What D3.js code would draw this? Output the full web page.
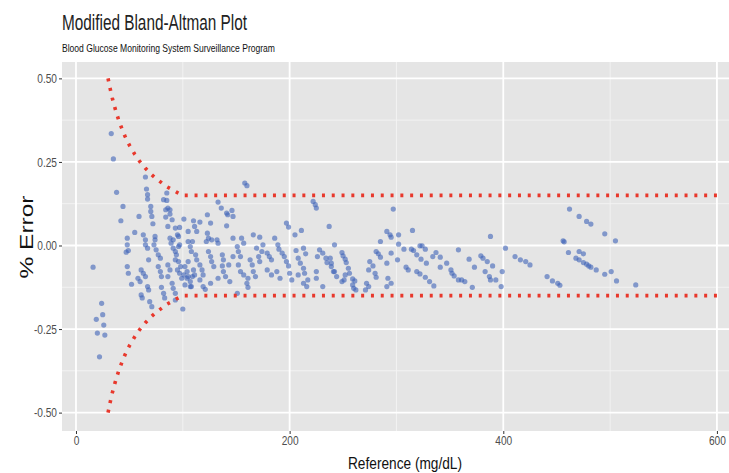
<!DOCTYPE html>
<html>
<head>
<meta charset="utf-8">
<script src="https://cdn.jsdelivr.net/npm/d3@7/dist/d3.min.js"></script>
<style>
  html, body { margin: 0; padding: 0; background: #ffffff; }
  svg { display: block; }
  text { font-family: "Liberation Sans", Arial, Helvetica, sans-serif; }
</style>
</head>
<body>
<svg id="chart" width="729" height="473"></svg>
<script>
// ---------------- DATA ----------------
const chartTitle = "Modified Bland-Altman Plot";
const chartSubtitle = "Blood Glucose Monitoring System Surveillance Program";
const xAxisTitle = "Reference (mg/dL)";
const yAxisTitle = "% Error";

const xTicks = [0, 200, 400, 600];
const xTickLabels = ["0", "200", "400", "600"];
const xMinorTicks = [100, 300, 500];
const yTicks = [-0.5, -0.25, 0, 0.25, 0.5];
const yTickLabels = ["-0.50", "-0.25", "0.00", "0.25", "0.50"];
const yMinorTicks = [-0.375, -0.125, 0.125, 0.375];

// accuracy boundary (red dotted lines)
const boundX     = [30, 32, 34, 36, 38, 40, 43, 46, 50, 55, 60, 65, 70, 75, 80, 85, 90, 95, 100, 600];
const boundUpper = [0.500, 0.469, 0.441, 0.417, 0.395, 0.375, 0.349, 0.326, 0.300, 0.273, 0.250, 0.231, 0.214, 0.200, 0.188, 0.176, 0.167, 0.158, 0.150, 0.150];
const boundLower = [-0.500, -0.469, -0.441, -0.417, -0.395, -0.375, -0.349, -0.326, -0.300, -0.273, -0.250, -0.231, -0.214, -0.200, -0.188, -0.176, -0.167, -0.158, -0.150, -0.150];

// scatter: reference value (mg/dL) and % error
const refX = [
  16, 24, 25, 19, 26, 20, 27, 22, 33, 35, 65, 38, 66, 67, 67, 44, 70, 70, 71, 42,
  59, 72, 85, 85, 84, 88, 84, 90, 93, 97, 86, 55, 48, 63, 74, 95, 105, 82, 86, 101,
  110, 111, 113, 48, 49, 47, 65, 65, 67, 74, 73, 75, 77, 79, 88, 89, 91, 93, 94, 96,
  97, 105, 107, 108, 68, 48, 49, 61, 63, 65, 58, 60, 52, 67, 68, 61, 62, 69, 71, 77,
  79, 80, 80, 82, 83, 86, 88, 86, 90, 91, 93, 93, 95, 97, 99, 96, 102, 104, 105, 107,
  108, 105, 110, 111, 100, 133, 136, 141, 146, 142, 147, 123, 116, 126, 141, 123, 124, 122, 109, 132,
  133, 147, 155, 157, 166, 172, 175, 169, 174, 179, 181, 183, 189, 190, 193, 195, 197, 199, 197, 199,
  205, 211, 206, 213, 215, 208, 210, 213, 214, 208, 222, 224, 225, 237, 242, 228, 231, 226, 234, 235,
  239, 242, 244, 225, 225, 231, 217, 216, 124, 126, 127, 129, 137, 138, 137, 138, 140, 144, 112, 113,
  116, 118, 119, 109, 116, 121, 126, 133, 151, 152, 154, 152, 154, 157, 161, 163, 165, 166, 168, 160,
  161, 171, 172, 179, 183, 188, 191, 200, 202, 213, 147, 143, 151, 158, 160, 88, 186, 127, 91, 96,
  93, 98, 101, 104, 102, 107, 119, 238, 239, 241, 249, 250, 252, 253, 255, 256, 252, 251, 249, 259,
  261, 259, 260, 262, 272, 271, 274, 274, 275, 278, 280, 281, 281, 283, 285, 285, 291, 294, 295, 297,
  302, 302, 295, 291, 292, 291, 295, 301, 307, 309, 311, 315, 314, 316, 319, 322, 319, 322, 324, 327,
  323, 328, 327, 331, 334, 337, 335, 341, 341, 347, 351, 352, 354, 358, 361, 364, 358, 368, 371, 373,
  379, 381, 385, 383, 388, 390, 387, 388, 393, 398, 399, 402, 411, 416, 421, 425, 441, 446, 451, 453,
  456, 457, 461, 462, 471, 478, 482, 495, 505, 471, 475, 468, 471, 475, 478, 480, 482, 487, 495, 501,
  506, 524
];
const pctErr = [
  -0.065, -0.173, -0.207, -0.221, -0.238, -0.262, -0.268, -0.333, 0.335, 0.259, 0.205, 0.159, 0.169, 0.152, 0.139, 0.117, 0.117, 0.102, 0.087, 0.074,
  0.087, 0.065, 0.157, 0.135, 0.107, 0.094, 0.085, 0.077, 0.052, 0.054, 0.057, 0.039, 0.022, 0.032, 0.027, 0.032, 0.042, 0.137, 0.112, 0.079,
  0.074, 0.057, 0.042, 0.002, -0.015, -0.020, 0.017, 0.002, -0.008, 0.017, 0.002, -0.013, -0.028, -0.038, 0.022, 0.007, -0.008, -0.018, -0.028, 0.027,
  0.002, 0.012, -0.003, -0.018, -0.043, -0.063, -0.083, -0.073, -0.083, -0.093, -0.098, -0.108, -0.116, -0.123, -0.133, -0.148, -0.157, -0.168, -0.183, -0.063,
  -0.078, -0.093, -0.125, -0.143, -0.157, -0.058, -0.073, -0.093, -0.113, -0.128, -0.143, -0.163, -0.073, -0.083, -0.098, -0.048, -0.063, -0.078, -0.093, -0.108,
  -0.123, -0.048, -0.073, -0.088, -0.190, 0.130, 0.112, 0.097, 0.105, 0.092, 0.087, 0.092, 0.070, 0.067, 0.059, 0.037, 0.022, 0.012, 0.012, 0.017,
  0.007, 0.022, 0.022, 0.007, 0.032, 0.025, 0.002, -0.008, -0.018, -0.023, -0.033, -0.043, 0.002, -0.011, -0.023, -0.033, -0.048, -0.061, 0.067, 0.055,
  0.032, 0.045, -0.015, -0.008, -0.025, -0.038, -0.053, -0.068, -0.083, -0.088, 0.132, 0.122, 0.112, 0.057, 0.002, -0.013, -0.023, -0.033, -0.038, -0.051,
  -0.063, -0.078, -0.093, -0.078, -0.098, -0.123, -0.103, -0.123, -0.018, -0.033, -0.048, -0.063, -0.028, -0.043, -0.061, -0.078, -0.093, -0.108, -0.028, -0.043,
  -0.058, -0.073, -0.088, -0.093, -0.103, -0.131, -0.113, -0.098, -0.003, -0.018, -0.033, -0.058, -0.078, -0.088, -0.098, -0.043, -0.058, -0.078, -0.093, -0.113,
  -0.125, -0.033, -0.048, -0.073, -0.088, -0.078, -0.098, -0.083, -0.103, -0.113, -0.033, -0.058, -0.143, 0.187, 0.179, 0.107, 0.022, 0.017, 0.017, -0.003,
  -0.043, -0.063, -0.088, -0.098, -0.118, -0.123, -0.123, -0.038, -0.053, -0.078, -0.021, -0.031, -0.041, -0.051, -0.068, -0.083, -0.088, -0.103, -0.108, -0.100,
  -0.106, -0.118, -0.128, -0.133, -0.113, -0.133, -0.123, -0.073, -0.048, -0.061, -0.083, -0.095, -0.018, -0.025, -0.035, 0.012, 0.042, 0.032, 0.025, 0.109,
  0.032, 0.004, -0.023, -0.053, -0.098, -0.123, -0.113, -0.043, -0.011, -0.065, -0.073, 0.045, -0.011, -0.015, -0.078, -0.085, -0.028, -0.001, -0.001, -0.011,
  -0.041, -0.053, -0.095, -0.108, -0.033, -0.021, -0.121, -0.035, -0.065, -0.053, -0.073, -0.083, -0.091, -0.103, -0.103, -0.108, -0.013, -0.041, -0.125, -0.065,
  -0.031, -0.038, -0.048, -0.078, 0.027, -0.061, -0.093, -0.103, -0.103, -0.123, -0.078, -0.008, -0.033, -0.043, -0.048, -0.058, -0.093, -0.106, -0.113, -0.119,
  0.014, 0.011, -0.021, 0.109, 0.087, 0.072, 0.064, 0.035, 0.014, -0.018, -0.025, -0.038, -0.043, -0.051, -0.056, -0.061, -0.065, -0.073, -0.086, -0.078,
  -0.106, -0.118
];

// ---------------- CHART ----------------
const svg = d3.select("#chart");
const panel = { left: 62, right: 729, top: 62, bottom: 431 };

const x = d3.scaleLinear().domain([-13.1, 611.3]).range([panel.left, panel.right]);
const y = d3.scaleLinear().domain([-0.555, 0.549]).range([panel.bottom, panel.top]);

function condense(sel, factor) {
  sel.each(function () {
    const L = this.getComputedTextLength();
    d3.select(this).attr("textLength", L * factor).attr("lengthAdjust", "spacingAndGlyphs");
  });
}

// panel background
svg.append("rect")
  .attr("x", panel.left).attr("y", panel.top)
  .attr("width", panel.right - panel.left).attr("height", panel.bottom - panel.top)
  .attr("fill", "#e5e5e5");

const grid = svg.append("g");
grid.selectAll(".yminor").data(yMinorTicks).join("line")
  .attr("x1", panel.left).attr("x2", panel.right)
  .attr("y1", d => y(d)).attr("y2", d => y(d))
  .attr("stroke", "#f4f4f4").attr("stroke-width", 0.9);
grid.selectAll(".xminor").data(xMinorTicks).join("line")
  .attr("y1", panel.top).attr("y2", panel.bottom)
  .attr("x1", d => x(d)).attr("x2", d => x(d))
  .attr("stroke", "#f4f4f4").attr("stroke-width", 0.9);
grid.selectAll(".ymajor").data(yTicks).join("line")
  .attr("x1", panel.left).attr("x2", panel.right)
  .attr("y1", d => y(d)).attr("y2", d => y(d))
  .attr("stroke", "#ffffff").attr("stroke-width", 1.8);
grid.selectAll(".xmajor").data(xTicks).join("line")
  .attr("y1", panel.top).attr("y2", panel.bottom)
  .attr("x1", d => x(d)).attr("x2", d => x(d))
  .attr("stroke", "#ffffff").attr("stroke-width", 1.8);

// scatter points
const pts = refX.map((v, i) => ({ x: v, y: pctErr[i] }));
svg.append("g").selectAll("circle").data(pts).join("circle")
  .attr("cx", d => x(d.x)).attr("cy", d => y(d.y))
  .attr("r", 2.6)
  .attr("fill", "#3e63b8")
  .attr("fill-opacity", 0.6);

// boundary dotted lines
const line = d3.line().x(d => x(d[0])).y(d => y(d[1]));
[boundUpper, boundLower].forEach(arr => {
  svg.append("path")
    .datum(boundX.map((v, i) => [v, arr[i]]))
    .attr("d", line)
    .attr("fill", "none")
    .attr("stroke", "#e8382c")
    .attr("stroke-width", 3.6)
    .attr("stroke-dasharray", "3 6.8")
    .attr("stroke-linecap", "butt");
});

// axes
const yAxis = d3.axisLeft(y).tickValues(yTicks)
  .tickFormat((d, i) => yTickLabels[i]).tickSize(3).tickPadding(2);
const gy = svg.append("g").attr("transform", `translate(${panel.left},0)`).call(yAxis);
gy.select(".domain").remove();
gy.selectAll(".tick line").attr("stroke", "#333333");
gy.selectAll(".tick text").attr("fill", "#4d4d4d").style("font-size", "13px")
  .style("font-family", "'Liberation Sans', Arial, sans-serif");
condense(gy.selectAll(".tick text"), 0.78);

const xAxis = d3.axisBottom(x).tickValues(xTicks)
  .tickFormat((d, i) => xTickLabels[i]).tickSize(3).tickPadding(2);
const gx = svg.append("g").attr("transform", `translate(0,${panel.bottom})`).call(xAxis);
gx.select(".domain").remove();
gx.selectAll(".tick line").attr("stroke", "#333333");
gx.selectAll(".tick text").attr("fill", "#4d4d4d").style("font-size", "13px")
  .style("font-family", "'Liberation Sans', Arial, sans-serif");
condense(gx.selectAll(".tick text"), 0.78);

// titles
svg.append("text").attr("x", 62).attr("y", 30)
  .attr("fill", "#222222").style("font-size", "22px")
  .attr("textLength", 185).attr("lengthAdjust", "spacingAndGlyphs")
  .text(chartTitle);
svg.append("text").attr("x", 62).attr("y", 52)
  .attr("fill", "#111111").style("font-size", "11.5px")
  .attr("textLength", 213).attr("lengthAdjust", "spacingAndGlyphs")
  .text(chartSubtitle);

svg.append("text").attr("x", 405).attr("y", 469)
  .attr("text-anchor", "middle")
  .attr("fill", "#111111").style("font-size", "17px")
  .attr("textLength", 114).attr("lengthAdjust", "spacingAndGlyphs")
  .text(xAxisTitle);

svg.append("text")
  .attr("transform", "translate(33,237) rotate(-90)")
  .attr("text-anchor", "middle")
  .attr("fill", "#111111").style("font-size", "18px")
  .attr("textLength", 83).attr("lengthAdjust", "spacingAndGlyphs")
  .text(yAxisTitle);
</script>
</body>
</html>
